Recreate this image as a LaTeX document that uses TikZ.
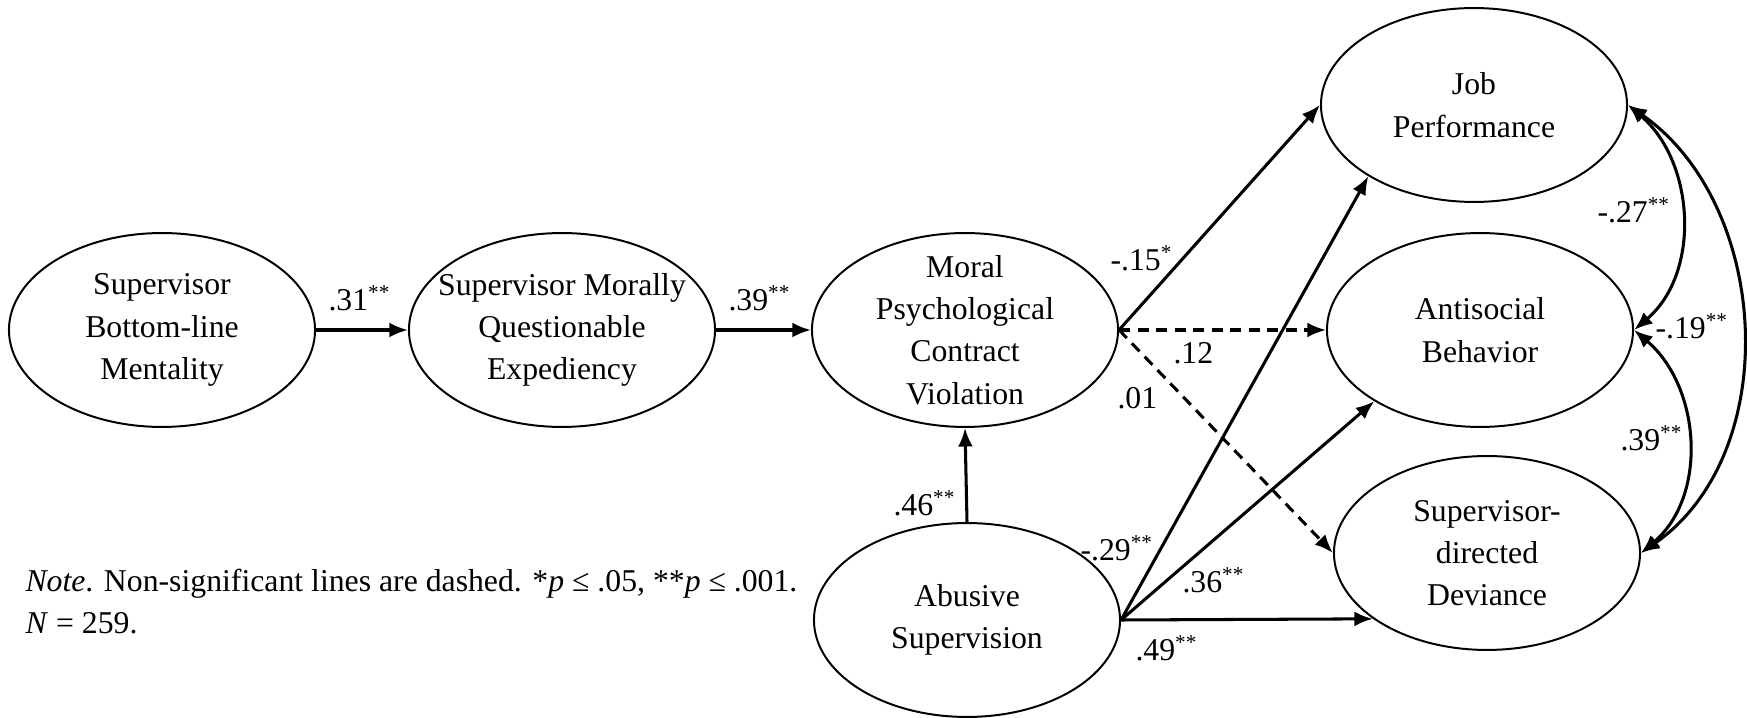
\documentclass[tikz,border=0pt]{standalone}
\usepackage{fontspec}
\setmainfont{Liberation Serif}
\usetikzlibrary{arrows.meta}
\usetikzlibrary{shapes.geometric}
\tikzset{>={Latex[length=7pt,width=5.6pt]}}
\tikzstyle{var} = [draw, ellipse, line width=0.75pt, minimum width=115.7pt, minimum height=73.3pt, inner sep=0]
\tikzstyle{vartext} = [align=center, inner sep=0, font=\fontsize{12}{16}\selectfont]
\tikzstyle{eff} = [->, line width=1.15pt]
\tikzstyle{ns} = [dash pattern=on 4.2pt off 2.8pt]
\tikzstyle{cov} = [<->, line width=1.15pt]
\tikzstyle{coef} = [anchor=base west, inner sep=0, font=\fontsize{12}{16}\selectfont]

\begin{document}
\begin{tikzpicture}[x=0.378pt, y=-0.378pt]
\useasboundingbox (0,0) rectangle (1747,718);
%\node [draw=none] at (870,20) {\bf Structural model};
\node [var] (BLM) at (162, 330) {};
\node [var] (MQE) at (562, 330) {};
\node [var] (PCV) at (965, 330) {};
\node [var] (AS) at (967, 620) {};
\node [var] (JP) at (1474, 105) {};
\node [var] (AB) at (1480, 330) {};
\node [var] (SD) at (1487, 553) {};
\node [vartext] (BLMt) at (BLM) {Supervisor\\Bottom-line\\Mentality};
\node [vartext] (MQEt) at (MQE) {Supervisor Morally\\Questionable\\Expediency};
\node [vartext] (PCVt) at (PCV) {Moral\\Psychological\\Contract\\Violation};
\node [vartext] (ASt) at (AS) {Abusive\\Supervision};
\node [vartext] (JPt) at (JP) {Job\\Performance};
\node [vartext] (ABt) at (AB) {Antisocial\\Behavior};
\node [vartext] (SDt) at (SD) {Supervisor-\\directed\\Deviance};
\draw [eff] (BLM) to (MQE);
\draw [eff] (MQE) to (PCV);
\draw [eff] (AS.north) to (PCV.south);
\draw [eff] (PCV.east) to (JP.west);
\draw [eff, ns] (PCV.east) to (AB.west);
\draw [eff, ns] (PCV.east) to (SD.west);
\draw [eff] (AS.east) to (JP.214);
\draw [eff] (AS.east) to (AB.214);
\draw [eff] (AS.east) to (SD.210);
\draw [cov] (JP.east) .. controls +(67,57) and +(67,-57) .. (AB.east);
\draw [cov] (AB.east) .. controls +(67,57) and +(67,-57) .. (SD.east);
\draw [cov] (JP.east) .. controls +(143,100) and +(143,-100) .. (SD.east);
\node [coef] (c1) at (328, 311) {.31\textsuperscript{**}};
\node [coef] (c2) at (728, 311) {.39\textsuperscript{**}};
\node [coef] (c3) at (893, 516) {.46\textsuperscript{**}};
\node [coef] (c4) at (1110, 271) {-.15\textsuperscript{*}};
\node [coef] (c5) at (1173, 364) {.12};
\node [coef] (c6) at (1117, 409) {.01};
\node [coef] (c7) at (1080, 561) {-.29\textsuperscript{**}};
\node [coef] (c8) at (1182, 593) {.36\textsuperscript{**}};
\node [coef] (c9) at (1135, 661) {.49\textsuperscript{**}};
\node [coef] (r1) at (1597, 223) {-.27\textsuperscript{**}};
\node [coef] (r2) at (1655, 339) {-.19\textsuperscript{**}};
\node [coef] (r3) at (1620, 451) {.39\textsuperscript{**}};
\node [coef] (note) at (25, 592) {\textit{Note}. Non-significant lines are dashed. *\textit{p} ≤ .05, **\textit{p} ≤ .001.};
\node [coef] (nsize) at (25, 634) {\textit{N} = 259.};
\end{tikzpicture}
\end{document}
